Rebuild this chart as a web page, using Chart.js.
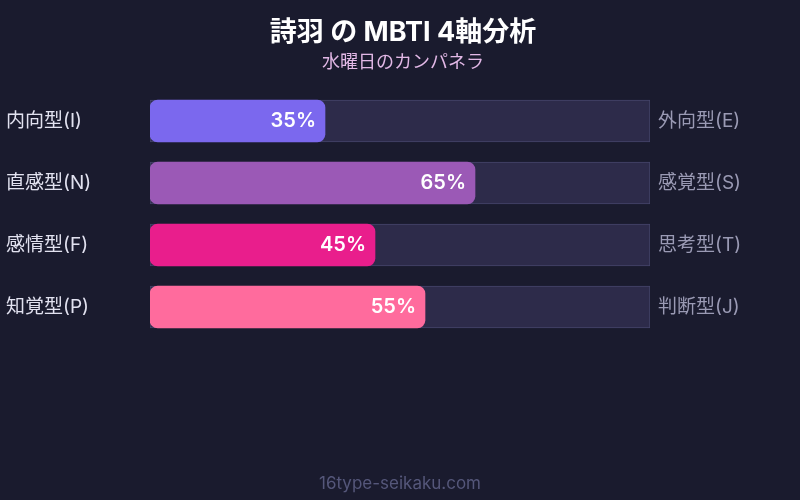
<!DOCTYPE html>
<html lang="ja">
<head>
    <meta charset="UTF-8">
    <title>詩羽 の MBTI 4軸分析</title>
    <script src="https://cdn.jsdelivr.net/npm/chart.js"></script>
    <style>
        html, body {
            margin: 0;
            padding: 0;
            background-color: #1a1b2e;
        }
        #wrap {
            width: 800px;
            height: 500px;
        }
    </style>
</head>
<body>
<div id="wrap"><canvas id="mbtiChart" width="800" height="500"></canvas></div>

<script>
    // データ
    const leftLabels = ['内向型(I)', '直感型(N)', '感情型(F)', '知覚型(P)'];
    const rightLabels = ['外向型(E)', '感覚型(S)', '思考型(T)', '判断型(J)'];
    const scores = [35, 65, 45, 55];
    const trackValues = [100, 100, 100, 100];
    const barColors = ['#7b68ee', '#9b59b6', '#e91e8c', '#ff6b9d'];

    const FONT = "Inter, 'Noto Sans CJK JP', sans-serif";
    Chart.defaults.font.family = FONT;

    // バー内のパーセント表示とフッター
    const labelPlugin = {
        id: 'labelPlugin',
        afterDatasetsDraw(chart) {
            const ctx = chart.ctx;
            const meta = chart.getDatasetMeta(1);
            ctx.save();
            ctx.fillStyle = '#ffffff';
            ctx.font = "600 20px " + FONT;
            ctx.textAlign = 'right';
            ctx.textBaseline = 'middle';
            meta.data.forEach((bar, i) => {
                ctx.fillText(scores[i] + '%', bar.x - 9, bar.y);
            });
            ctx.restore();
        },
        afterDraw(chart) {
            const ctx = chart.ctx;
            ctx.save();
            ctx.fillStyle = '#55577a';
            ctx.font = "17px " + FONT;
            ctx.textAlign = 'center';
            ctx.textBaseline = 'middle';
            ctx.fillText('16type-seikaku.com', chart.width / 2, 484);
            ctx.restore();
        }
    };

    const ctx = document.getElementById('mbtiChart').getContext('2d');
    new Chart(ctx, {
        type: 'bar',
        data: {
            labels: leftLabels,
            datasets: [{
                label: 'track',
                data: trackValues,
                backgroundColor: '#2d2b4a',
                borderColor: '#45456a',
                borderWidth: 1,
                borderSkipped: false,
                barThickness: 42,
                grouped: false,
                order: 2
            }, {
                label: 'score',
                data: scores,
                backgroundColor: barColors,
                borderWidth: 0,
                borderRadius: 8,
                borderSkipped: false,
                barThickness: 42,
                grouped: false,
                order: 1
            }]
        },
        options: {
            indexAxis: 'y',
            responsive: false,
            animation: false,
            layout: {
                padding: { left: 6, right: 0, top: 0, bottom: 162 }
            },
            scales: {
                x: {
                    display: false,
                    min: 0,
                    max: 100
                },
                y: {
                    position: 'left',
                    grid: { display: false, drawTicks: false },
                    border: { display: false },
                    ticks: {
                        crossAlign: 'far',
                        color: '#e2e2f0',
                        font: { size: 19 }
                    },
                    afterFit(scale) { scale.width = 144; }
                },
                y2: {
                    type: 'category',
                    position: 'right',
                    labels: rightLabels,
                    offset: true,
                    grid: { display: false, drawTicks: false },
                    border: { display: false },
                    ticks: {
                        padding: 8,
                        color: '#9a9ab4',
                        font: { size: 19 }
                    },
                    afterFit(scale) { scale.width = 150; }
                }
            },
            plugins: {
                legend: { display: false },
                tooltip: { enabled: false },
                title: {
                    display: true,
                    text: '詩羽 の MBTI 4軸分析',
                    color: '#ffffff',
                    font: { size: 27, weight: 'bold' },
                    padding: { top: 16.8, bottom: 0 }
                },
                subtitle: {
                    display: true,
                    text: '水曜日のカンパネラ',
                    color: '#e2b8e6',
                    font: { size: 18 },
                    padding: { top: 3, bottom: 16.2 }
                }
            }
        },
        plugins: [labelPlugin]
    });
</script>
</body>
</html>
